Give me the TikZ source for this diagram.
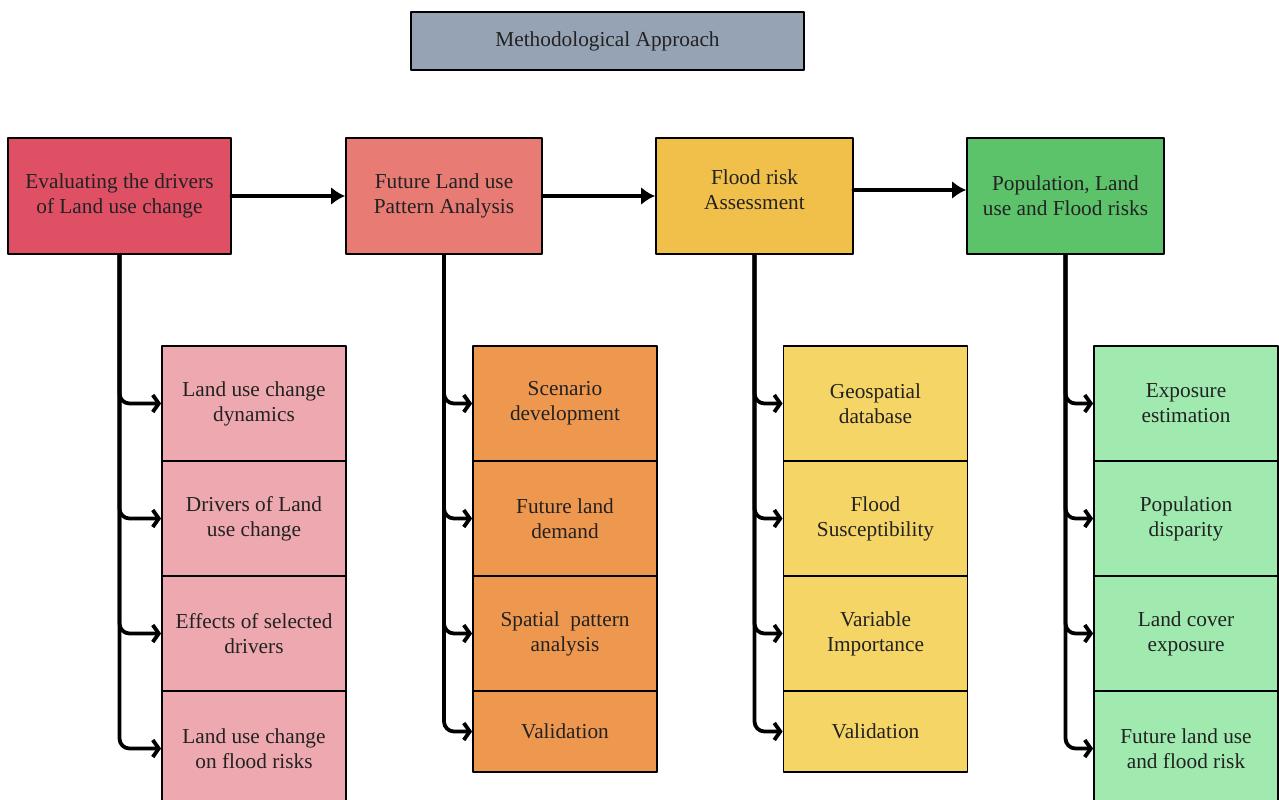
\documentclass[tikz,border=0pt]{standalone}
\usepackage{fontspec}
\setmainfont{Liberation Serif}
\usetikzlibrary{arrows.meta}
\definecolor{titlegray}{RGB}{150,163,181}
\definecolor{drvred}{RGB}{224,80,101}
\definecolor{futsalmon}{RGB}{232,123,116}
\definecolor{fldyellow}{RGB}{241,192,74}
\definecolor{popgreen}{RGB}{93,195,106}
\definecolor{drvpink}{RGB}{238,168,175}
\definecolor{futorange}{RGB}{238,151,79}
\definecolor{fldlight}{RGB}{245,213,102}
\definecolor{poplight}{RGB}{160,234,176}
\definecolor{txtgray}{RGB}{34,34,34}

\begin{document}
\begin{tikzpicture}[x=1pt,y=-1pt,line cap=round,line join=round,
  box/.style={draw=black,line width=1.8pt,align=center,text=txtgray,inner sep=0pt,
    font=\fontsize{21.3}{25}\selectfont},
  head/.style={box,minimum width=197pt,minimum height=116pt},
  sub/.style={box,minimum width=184pt,minimum height=115pt},
  flow/.style={line width=4.5pt,-{Latex[length=14pt,width=18pt]}},
  branch/.style={line width=3.8pt,rounded corners=10pt,-{Straight Barb[length=6pt,width=17pt,line width=3.8pt]}}]
\clip (0,0) rectangle (1279,800);
% title
\node[box,fill=titlegray,minimum width=393pt,minimum height=58pt] (title) at (607.5,41) {Methodological Approach};
% main steps
\node[head,fill=drvred,minimum width=223pt] (drivers) at (119.5,196) {Evaluating the drivers\\of Land use change};
\node[head,fill=futsalmon,minimum width=196pt] (future) at (444,196) {Future Land use\\Pattern Analysis};
\node[head,fill=fldyellow,text depth=12pt] (flood) at (754.5,196) {Flood risk\\Assessment};
\node[head,fill=popgreen] (population) at (1065.5,196) {Population, Land\\use and Flood risks};
\draw[flow] (drivers.east) -- (future.west);
\draw[flow] (future.east) -- (flood.west);
\draw[flow] ([yshift=6pt]flood.east) -- ([yshift=6pt]population.west);
% sub steps
\node[sub,fill=drvpink] (drv1) at (254,403.5) {Land use change\\dynamics};
\node[sub,fill=drvpink] (drv2) at (254,518.5) {Drivers of Land\\use change};
\node[sub,fill=drvpink] (drv3) at (254,633.5) {Effects of selected\\drivers};
\node[sub,fill=drvpink] (drv4) at (254,748.5) {Land use change\\on flood risks};
\node[sub,fill=futorange] (fut1) at (565,403.5) {Scenario\\development};
\node[sub,fill=futorange] (fut2) at (565,518.5) {Future land\\demand};
\node[sub,fill=futorange] (fut3) at (565,633.5) {Spatial\ \ pattern\\analysis};
\node[sub,fill=futorange,minimum height=81pt] (fut4) at (565,731.5) {Validation};
\node[sub,fill=fldlight] (fld1) at (875.5,403.5) {Geospatial\\database};
\node[sub,fill=fldlight] (fld2) at (875.5,518.5) {Flood\\Susceptibility};
\node[sub,fill=fldlight] (fld3) at (875.5,633.5) {Variable\\Importance};
\node[sub,fill=fldlight,minimum height=81pt] (fld4) at (875.5,731.5) {Validation};
\node[sub,fill=poplight] (pop1) at (1186,403.5) {Exposure\\estimation};
\node[sub,fill=poplight] (pop2) at (1186,518.5) {Population\\disparity};
\node[sub,fill=poplight] (pop3) at (1186,633.5) {Land cover\\exposure};
\node[sub,fill=poplight] (pop4) at (1186,748.5) {Future land use\\and flood risk};
% branches
\draw[branch] (drivers.south) |- (drv1.west);
\draw[branch] (drivers.south) |- (drv2.west);
\draw[branch] (drivers.south) |- (drv3.west);
\draw[branch] (drivers.south) |- (drv4.west);
\draw[branch] (future.south) |- (fut1.west);
\draw[branch] (future.south) |- (fut2.west);
\draw[branch] (future.south) |- (fut3.west);
\draw[branch] (future.south) |- (fut4.west);
\draw[branch] (flood.south) |- (fld1.west);
\draw[branch] (flood.south) |- (fld2.west);
\draw[branch] (flood.south) |- (fld3.west);
\draw[branch] (flood.south) |- (fld4.west);
\draw[branch] (population.south) |- (pop1.west);
\draw[branch] (population.south) |- (pop2.west);
\draw[branch] (population.south) |- (pop3.west);
\draw[branch] (population.south) |- (pop4.west);
\end{tikzpicture}
\end{document}
